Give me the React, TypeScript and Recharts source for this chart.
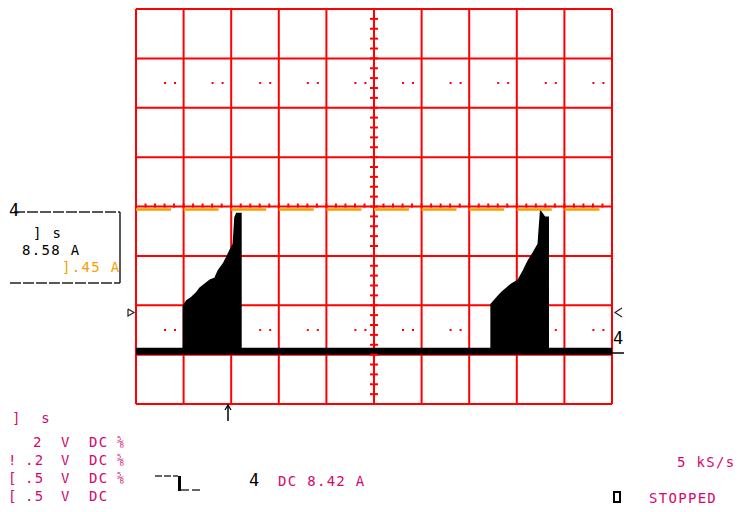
import {
  ComposedChart,
  Area,
  Line,
  Scatter,
  XAxis,
  YAxis,
  CartesianGrid,
} from "recharts";

// scope screen: 10 x 8 divisions, values in divisions
const gridX = [0, 1, 2, 3, 4, 5, 6, 7, 8, 9, 10];
const gridY = [-4, -3, -2, -1, 0, 1, 2, 3, 4];
const dottedLevels = [2.5, -2.5];

// channel 4 current (black), pulses
const currentTrace = [
  { t: 0, v: -2.93 },
  { t: 0.995, v: -2.93 },
  { t: 0.995, v: -2.01 },
  { t: 1.065, v: -1.91 },
  { t: 1.17, v: -1.84 },
  { t: 1.275, v: -1.74 },
  { t: 1.345, v: -1.65 },
  { t: 1.45, v: -1.57 },
  { t: 1.555, v: -1.49 },
  { t: 1.66, v: -1.45 },
  { t: 1.73, v: -1.3 },
  { t: 1.835, v: -1.16 },
  { t: 1.905, v: -1.03 },
  { t: 1.975, v: -0.89 },
  { t: 2.045, v: -0.76 },
  { t: 2.08, v: -0.22 },
  { t: 2.115, v: -0.14 },
  { t: 2.205, v: -0.14 },
  { t: 2.205, v: -2.93 },
  { t: 7.46, v: -2.93 },
  { t: 7.46, v: -1.98 },
  { t: 7.58, v: -1.85 },
  { t: 7.68, v: -1.74 },
  { t: 7.79, v: -1.65 },
  { t: 7.89, v: -1.57 },
  { t: 8.03, v: -1.49 },
  { t: 8.14, v: -1.3 },
  { t: 8.24, v: -1.1 },
  { t: 8.35, v: -0.93 },
  { t: 8.45, v: -0.76 },
  { t: 8.5, v: -0.1 },
  { t: 8.59, v: -0.22 },
  { t: 8.66, v: -0.22 },
  { t: 8.66, v: -2.93 },
  { t: 10, v: -2.93 },
];
const baselineTrace = [
  { t: 0, v: -2.93 },
  { t: 10, v: -2.93 },
];
// orange reference trace
const orangeTrace = [
  { t: 0, v: -0.06 },
  { t: 9.83, v: -0.06 },
];

// minor ticks on the centre axes (every 0.2 div)
const minorY = Array.from({ length: 41 }, (_, i) => ({ t: 5, v: -4 + i * 0.2 }));
const minorX = Array.from({ length: 51 }, (_, i) => ({ t: i * 0.2, v: 0 }));

const RED = "#ff0000";
const MAG = "#d4086e";
const ORANGE = "#f5a000";

function T({ x, y, c = MAG, size = 14, children }: any) {
  return (
    <div
      style={{
        position: "absolute",
        left: x,
        top: y - 2,
        color: c,
        fontFamily: "'DejaVu Sans Mono', monospace",
        fontSize: size,
        lineHeight: "14px",
        letterSpacing: "1.3px",
        whiteSpace: "pre",
      }}
    >
      {children}
    </div>
  );
}

const rows = [
  { y: 437, ch: "", sc: "2", sym: true },
  { y: 455, ch: "!", sc: ".2", sym: true },
  { y: 473, ch: "[", sc: ".5", sym: true },
  { y: 491, ch: "[", sc: ".5", sym: false },
];

export default function App() {
  return (
    <div style={{ position: "absolute", left: 0, top: 0, width: 740, height: 512, background: "#fff" }}>
      <ComposedChart width={740} height={512} margin={{ top: 9, right: 128, bottom: 108, left: 136 }}>
        <XAxis dataKey="t" type="number" domain={[0, 10]} ticks={gridX} hide allowDataOverflow />
        <YAxis dataKey="v" type="number" domain={[-4, 4]} ticks={gridY} hide allowDataOverflow />
        <CartesianGrid stroke={RED} strokeWidth={2} horizontalValues={gridY} verticalValues={gridX} />
        <CartesianGrid
          vertical={false}
          horizontalValues={dottedLevels}
          stroke={RED}
          strokeWidth={2}
          strokeDasharray="2 8 2 35.6"
          strokeDashoffset={19.6}
        />
        <Scatter
          data={minorY}
          isAnimationActive={false}
          shape={(p: any) => <line x1={p.cx - 4} x2={p.cx + 4} y1={p.cy} y2={p.cy} stroke={RED} strokeWidth={2} />}
        />
        <Scatter
          data={minorX}
          isAnimationActive={false}
          shape={(p: any) => <line x1={p.cx} x2={p.cx} y1={p.cy - 3} y2={p.cy + 1} stroke={RED} strokeWidth={2} />}
        />
        <Line
          data={orangeTrace}
          dataKey="v"
          stroke={ORANGE}
          strokeWidth={2.5}
          strokeDasharray="35 12.6"
          dot={false}
          isAnimationActive={false}
        />
        <Area
          data={currentTrace}
          dataKey="v"
          type="linear"
          baseValue={-2.93}
          stroke="#000"
          strokeWidth={1.5}
          fill="#000"
          fillOpacity={1}
          isAnimationActive={false}
        />
        <Line data={baselineTrace} dataKey="v" stroke="#000" strokeWidth={7} dot={false} isAnimationActive={false} />
      </ComposedChart>

      <svg width={740} height={512} style={{ position: "absolute", left: 0, top: 0, pointerEvents: "none" }}>
        {/* cursor readout box */}
        <line x1={14} x2={120} y1={212} y2={212} stroke="#222" strokeWidth={1.5} strokeDasharray="11 2" />
        <line x1={10} x2={120} y1={283} y2={283} stroke="#222" strokeWidth={1.5} strokeDasharray="11 2" />
        <line x1={120} x2={120} y1={212} y2={283} stroke="#222" strokeWidth={1.5} />
        {/* level markers */}
        <polyline points="128,309 134,312.5 128,316 128,309" fill="none" stroke="#222" strokeWidth={1.2} />
        <polyline points="622,308 615,312.5 622,317" fill="none" stroke="#222" strokeWidth={1.2} />
        <line x1={612} x2={624} y1={353} y2={353} stroke="#000" strokeWidth={1.5} />
        {/* trigger position */}
        <line x1={228} x2={228} y1={406} y2={421} stroke="#000" strokeWidth={1.5} />
        <polyline points="225,410 228,405 231,410" fill="none" stroke="#000" strokeWidth={1.3} />
        {/* trigger slope symbol */}
        <line x1={155} x2={178} y1={476} y2={476} stroke="#333" strokeWidth={1.5} strokeDasharray="7 2" />
        <line x1={179.5} x2={179.5} y1={476} y2={491} stroke="#000" strokeWidth={3} />
        <line x1={181} x2={201} y1={490} y2={490} stroke="#333" strokeWidth={1.5} strokeDasharray="8 3" />
        {/* stop box */}
        <rect x={614} y={492} width={6} height={10} fill="none" stroke="#000" strokeWidth={2} />
      </svg>

      <T x={9} y={205} c="#000" size={17}>4</T>
      <T x={33} y={228} c="#000">] s</T>
      <T x={22} y={245} c="#000">8.58 A</T>
      <T x={62} y={262} c={ORANGE}>].45 A</T>
      <T x={613} y={333} c="#000" size={17}>4</T>

      <T x={12} y={413}>]  s</T>
      {rows.map((r) => (
        <div key={r.y}>
          {r.ch && <T x={8} y={r.y}>{r.ch}</T>}
          <T x={r.sc.length > 1 ? 25 : 33} y={r.y}>{r.sc}</T>
          <T x={61} y={r.y}>V</T>
          <T x={89} y={r.y}>DC</T>
          {r.sym && <T x={117} y={r.y} size={12}>⅝</T>}
        </div>
      ))}
      <T x={249} y={475} c="#000" size={17}>4</T>
      <T x={278} y={476}>DC 8.42 A</T>
      <T x={677} y={457}>5 kS/s</T>
      <T x={649} y={493}>STOPPED</T>
    </div>
  );
}
